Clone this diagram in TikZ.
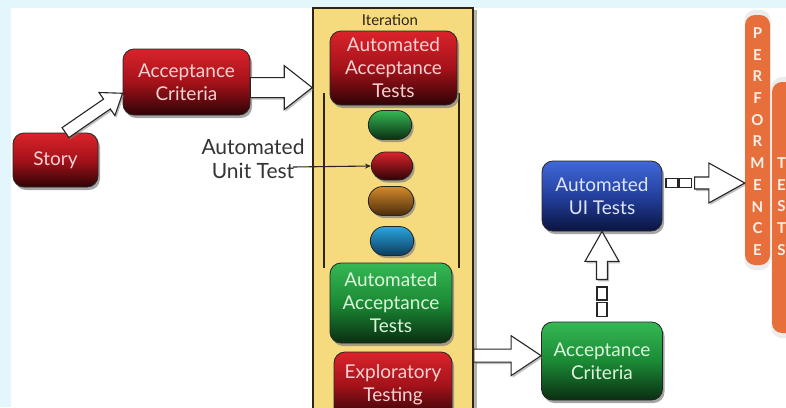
\documentclass[tikz,border=0pt]{standalone}
\usepackage{fontspec}
\setmainfont{Lato}
\usetikzlibrary{calc,shadows,shapes.misc,arrows.meta}

\definecolor{bgcyan}{HTML}{E3F6FB}
\definecolor{iterfill}{HTML}{F6DA7E}
\definecolor{iterdraw}{HTML}{2E2410}
\definecolor{rtop}{HTML}{DA232B}
\definecolor{rmid}{HTML}{A5121A}
\definecolor{rbot}{HTML}{2E0306}
\definecolor{gtop}{HTML}{35B854}
\definecolor{gmid}{HTML}{1B8A35}
\definecolor{gbot}{HTML}{0A2E12}
\definecolor{btop}{HTML}{4068D8}
\definecolor{bmid}{HTML}{24409E}
\definecolor{bbot}{HTML}{0A1440}
\definecolor{ntop}{HTML}{D28A2C}
\definecolor{nbot}{HTML}{4A2C0A}
\definecolor{ctop}{HTML}{2AA6DE}
\definecolor{cbot}{HTML}{0B3C5E}
\definecolor{perforange}{HTML}{E66F3C}
\definecolor{redtext}{HTML}{F8D2D2}
\definecolor{greentext}{HTML}{DAF6DA}
\definecolor{bluetext}{HTML}{DDE5FA}
\definecolor{lettertext}{HTML}{FDF0E8}

% white block arrow with outline: from #1 to #2,
% shaft half width #3, head half width #4, head length #5
\newcommand\blockarrow[5]{%
  \coordinate (ba-h) at ($(#2)!#5!(#1)$);
  \draw[hollowarrow] ($(#1)!#3!90:(#2)$) -- ($(ba-h)!#3!90:(#2)$)
    -- ($(ba-h)!#4!90:(#2)$) -- (#2) -- ($(ba-h)!#4!-90:(#2)$)
    -- ($(ba-h)!#3!-90:(#2)$) -- ($(#1)!#3!-90:(#2)$) -- cycle;
}

\tikzset{
  card/.style={rounded corners=11pt, draw=black!85, line width=0.8pt,
    align=center, inner sep=2pt,
    font=\fontsize{19}{23}\selectfont,
    drop shadow={shadow xshift=2pt, shadow yshift=-3pt, opacity=0.7}},
  redcard/.style={card, top color=rtop, bottom color=rbot, middle color=rmid, text=redtext},
  greencard/.style={card, top color=gtop, bottom color=gbot, middle color=gmid, text=greentext},
  bluecard/.style={card, top color=btop, bottom color=bbot, middle color=bmid, text=bluetext},
  pill/.style={rounded rectangle, draw=black!85, line width=0.8pt,
    minimum width=50pt, minimum height=29pt,
    drop shadow={shadow xshift=2pt, shadow yshift=-2.5pt, opacity=0.7}},
  iterbox/.style={draw=iterdraw, line width=1.6pt, fill=iterfill,
    drop shadow={shadow xshift=4pt, shadow yshift=-2pt, opacity=0.6}},
  hollowarrow/.style={draw=black!85, line width=1.1pt, fill=white, line join=miter,
    drop shadow={shadow xshift=1.5pt, shadow yshift=-2pt, opacity=0.5}},
  gapbox/.style={draw=black!85, line width=1.1pt, fill=white, inner sep=0pt},
  bracketline/.style={draw=iterdraw, line width=1.3pt},
  perfbar/.style={fill=perforange, rounded corners=10pt,
    drop shadow={shadow xshift=0pt, shadow yshift=0pt, opacity=0.15, shadow scale=1.04}},
  lettercol/.style={text=lettertext, align=center, inner sep=0pt,
    font=\fontsize{15}{21.7}\selectfont\bfseries},
}

\begin{document}
\begin{tikzpicture}[x=1pt,y=-1pt]
\useasboundingbox (0,0) rectangle (786,407);
\fill[bgcyan] (0,0) rectangle (786,407);
\fill[white] (11,8) rectangle (786,407);

% left part of the flow
\node[redcard, minimum width=85pt, minimum height=54pt] (story) at (55.5,160) {Story};
\node[redcard, minimum width=127pt, minimum height=66pt] (ac1) at (186.5,82) {Acceptance\\Criteria};

% iteration column
\node[iterbox, minimum width=160pt, minimum height=410pt] (iter) at (393,213) {};
\node[text=iterdraw, font=\fontsize{15}{16}\selectfont] (itlabel) at (390,20) {Iteration};
\draw[bracketline] (324,93) -- (324,268);
\draw[bracketline] (459,93) -- (459,268);

\node[redcard, minimum width=127pt, minimum height=74pt] (aat1) at (393.5,68) {Automated\\Acceptance\\Tests};
\node[pill, top color=gtop, bottom color=gbot] (ovg) at (390,125) {};
\node[pill, top color=rtop, bottom color=rbot, minimum width=48pt, minimum height=28pt] (ovr) at (392,166) {};
\node[pill, top color=ntop, bottom color=nbot, minimum width=52pt] (ovn) at (391,201) {};
\node[pill, top color=ctop, bottom color=cbot] (ovc) at (392,241) {};
\node[greencard, minimum width=122pt, minimum height=80pt] (aat2) at (391,303) {Automated\\Acceptance\\Tests};
\node[redcard, minimum width=118pt, minimum height=66pt] (expl) at (393,385) {Exploratory\\Testing};

% unit test annotation
\node[text=black!80, align=center, font=\fontsize{21}{24}\selectfont] (utlabel) at (253,159) {Automated\\Unit Test};
\coordinate (utstart) at (293,167);
\draw[line width=1.1pt, draw=black!85, -{Stealth[length=6pt,width=5pt]}] (utstart) -- (ovr.west);

% right part of the flow
\node[bluecard, minimum width=120pt, minimum height=70pt] (ui) at (602,196) {Automated\\UI Tests};
\node[greencard, minimum width=121pt, minimum height=78pt] (ac2) at (602,361) {Acceptance\\Criteria};

% performance / tests bars
\node[perfbar, minimum width=28pt, minimum height=251pt] (testsbar) at (786,207.5) {};
\node[perfbar, minimum width=25pt, minimum height=250pt] (perf) at (757.5,140) {};
\node[lettercol] (perftxt) at (757.5,141.5) {P\\E\\R\\F\\O\\R\\M\\E\\N\\C\\E};
\node[lettercol] (teststxt) at (781.5,206.6) {T\\E\\S\\T\\S};

% block arrows
\blockarrow{story.70}{ac1.190}{6pt}{14pt}{19pt}
\blockarrow{ac1.-5}{ac1.-5 -| iter.west}{10pt}{22pt}{28pt}
\blockarrow{iter.east |- ac2.175}{ac2.175}{6.5pt}{20pt}{30pt}

\node[gapbox, minimum width=10pt, minimum height=13pt] (sq1) at (602,293.5) {};
\node[gapbox, minimum width=10pt, minimum height=14pt] (sq2) at (602,309.5) {};
\coordinate (uptail) at ($(sq1.north)+(0,-7)$);
\blockarrow{uptail}{ui.south}{5.5pt}{17pt}{30pt}

\coordinate (uiout) at ($(ui.east)+(0,-13)$);
\node[gapbox, minimum width=12pt, minimum height=9pt, anchor=west] (sq3) at ($(uiout)+(3,0)$) {};
\node[gapbox, minimum width=12pt, minimum height=9pt, anchor=west] (sq4) at (sq3.east) {};
\coordinate (rtail) at ($(sq4.east)+(3,0)$);
\blockarrow{rtail}{rtail -| perf.west}{6pt}{20pt}{36pt}
\end{tikzpicture}
\end{document}
